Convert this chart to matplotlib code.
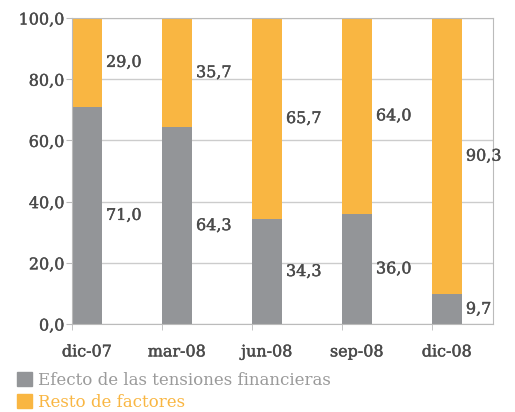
import matplotlib.pyplot as plt
import matplotlib.patheffects as pe
from matplotlib.patches import Patch
import numpy as np

categories = ["dic-07", "mar-08", "jun-08", "sep-08", "dic-08"]
tensiones = [71.0, 64.3, 34.3, 36.0, 9.7]
resto = [29.0, 35.7, 65.7, 64.0, 90.3]

grey = "#939598"
orange = "#F9B642"
txt = "#4a4a4a"
heavy = [pe.withStroke(linewidth=0.3, foreground=txt)]

plt.rcParams["font.family"] = ["DejaVu Serif"]

fig = plt.figure(figsize=(5.15, 4.12), dpi=100)
ax = fig.add_axes([0.1398, 0.2136, 0.8172, 0.7427])

x = np.arange(len(categories))
w = 1 / 3
ax.bar(x, tensiones, w, align="edge", color=grey, zorder=2)
ax.bar(x, resto, w, bottom=tensiones, align="edge", color=orange, zorder=2)

for i in range(len(categories)):
    ax.text(x[i] + w + 0.045, tensiones[i] / 2, f"{tensiones[i]:.1f}".replace(".", ","),
            va="center", ha="left", fontsize=11.5, color=txt, zorder=3, path_effects=heavy)
    ax.text(x[i] + w + 0.045, tensiones[i] + resto[i] / 2, f"{resto[i]:.1f}".replace(".", ","),
            va="center", ha="left", fontsize=11.5, color=txt, zorder=3, path_effects=heavy)

ax.set_xlim(0, 4 + 61 / 90)
ax.set_ylim(0, 100)
ax.set_yticks(np.arange(0, 101, 20))
ax.set_yticklabels([f"{v:.1f}".replace(".", ",") for v in np.arange(0, 101, 20)],
                   fontsize=11.5, color=txt)
ax.set_xticks(x + w / 2)
ax.set_xticklabels(categories, fontsize=11.5, color=txt)
for lab in ax.get_xticklabels() + ax.get_yticklabels():
    lab.set_path_effects(heavy)
ax.set_xticks(x, minor=True)
ax.tick_params(axis="x", which="major", length=0, pad=14)
ax.tick_params(axis="x", which="minor", length=4, color="#bbbbbb")
ax.tick_params(axis="y", length=4, color="#bbbbbb", pad=1.5)
ax.yaxis.grid(True, color="#cccccc", linewidth=1, zorder=0)
for s in ax.spines.values():
    s.set_color("#bbbbbb")

handles = [Patch(color=grey), Patch(color=orange)]
leg = fig.legend(handles, ["Efecto de las tensiones financieras", "Resto de factores"],
                 loc="lower left", bbox_to_anchor=(17 / 515, 1 / 412), frameon=False,
                 fontsize=12, handlelength=0.9, handleheight=0.9, handletextpad=0.36,
                 labelspacing=0.3, borderpad=0, borderaxespad=0)
for t, c in zip(leg.get_texts(), ["#9a9a9a", orange]):
    t.set_color(c)

fig.savefig("out.png", dpi=100)
